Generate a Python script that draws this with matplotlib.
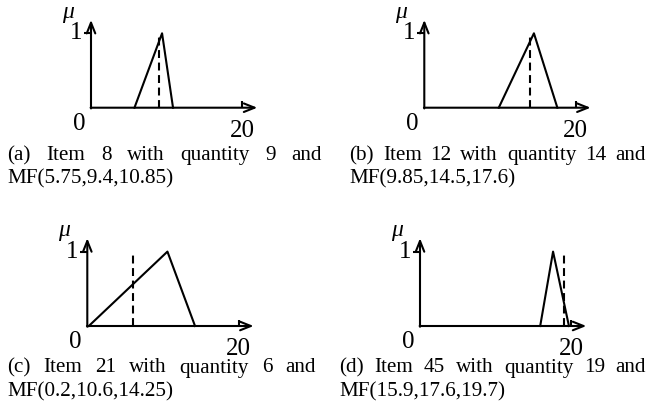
"""Triangular membership functions for four items, with the ordered quantity marked."""

import matplotlib

matplotlib.use("Agg")
import matplotlib.pyplot as plt

PANEL_LABELS = ["a", "b", "c", "d"]
ITEMS = [8, 12, 21, 45]
QUANTITIES = [9, 14, 6, 19]
MF_LEFT = [5.75, 9.85, 0.2, 15.9]
MF_PEAK = [9.4, 14.5, 10.6, 17.6]
MF_RIGHT = [10.85, 17.6, 14.25, 19.7]
X_MAX_LABEL = 20

W, H, DPI = 652, 411, 100
SERIF = ["Liberation Serif", "DejaVu Serif"]

# pixel layout per panel: origin of the plot, px per unit, caption box
ORIGINS = [(91.0, 107.7), (424.3, 107.7), (87.3, 326.0), (420.0, 326.0)]
SX, SY = 7.56, 74.4
CAPTION_X = [(7.5, 322.0), (349.5, 645.5), (7.5, 315.5), (339.5, 646.0)]
CAPTION_Y = [(160.0, 183.5), (160.0, 183.5), (372.5, 396.0), (372.5, 396.0)]

X0, X1, Y0, Y1 = -4.5, 23.5, -0.55, 1.45


def draw_panel(ax, left, peak, right, qty):
    lw = 1.5
    arrow = dict(arrowstyle="->,head_length=0.55,head_width=0.22", lw=lw,
                 color="black", shrinkA=0, shrinkB=0, mutation_scale=14)
    ax.annotate("", xy=(22.0, 0), xytext=(-0.05, 0), arrowprops=arrow)
    ax.annotate("", xy=(0, 1.18), xytext=(0, -0.01), arrowprops=arrow)
    ax.plot([-0.9, 0], [1, 1], color="black", lw=lw, solid_capstyle="butt")
    ax.plot([X_MAX_LABEL, X_MAX_LABEL], [0, 0.085], color="black", lw=lw,
            solid_capstyle="butt")

    ax.plot([left, peak, right], [0, 1, 0], color="black", lw=lw)
    ax.plot([qty, qty], [0, 1], color="black", lw=lw, dashes=(3.8, 2.2))

    ax.text(-3.1, 1.28, "\u03bc", fontsize=17, family=SERIF, style="italic",
            ha="center", va="center")
    ax.text(-2.0, 1.0, "1", fontsize=18, family=SERIF, ha="center", va="center")
    ax.text(-1.6, -0.22, "0", fontsize=18, family=SERIF, ha="center", va="center")
    ax.text(X_MAX_LABEL, -0.31, str(X_MAX_LABEL), fontsize=18, family=SERIF,
            ha="center", va="center")

    ax.set_xlim(X0, X1)
    ax.set_ylim(Y0, Y1)
    ax.axis("off")


def justified(fig, line, x_left, x_right, y, size):
    renderer = fig.canvas.get_renderer()
    words = line.split()
    texts = [fig.text(0, 1 - y / H, w, fontsize=size, family=SERIF,
                      ha="left", va="baseline") for w in words]
    widths = [t.get_window_extent(renderer).width for t in texts]
    gap = (x_right - x_left - sum(widths)) / (len(words) - 1)
    x = x_left
    for t, w in zip(texts, widths):
        t.set_x(x / W)
        x += w + gap


def main():
    fig = plt.figure(figsize=(W / DPI, H / DPI), dpi=DPI)

    for i, lab in enumerate(PANEL_LABELS):
        ox, oy = ORIGINS[i]
        left_px = ox + X0 * SX
        bottom_px = oy - Y0 * SY
        ax = fig.add_axes([left_px / W, 1 - bottom_px / H,
                           (X1 - X0) * SX / W, (Y1 - Y0) * SY / H])
        draw_panel(ax, MF_LEFT[i], MF_PEAK[i], MF_RIGHT[i], QUANTITIES[i])

        line1 = f"({lab}) Item {ITEMS[i]} with quantity {QUANTITIES[i]} and"
        line2 = f"MF({MF_LEFT[i]},{MF_PEAK[i]},{MF_RIGHT[i]})"
        xl, xr = CAPTION_X[i]
        y1, y2 = CAPTION_Y[i]
        justified(fig, line1, xl, xr, y1, 15.2)
        fig.text(xl / W, 1 - y2 / H, line2, fontsize=15.2, family=SERIF,
                 ha="left", va="baseline")

    fig.savefig("out.png", dpi=DPI)
    plt.close(fig)


if __name__ == "__main__":
    main()
